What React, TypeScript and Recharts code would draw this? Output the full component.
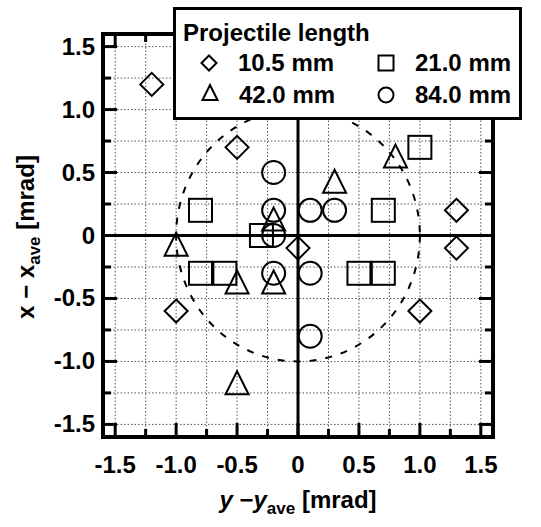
import React from "react";
import {
  ScatterChart, Scatter, XAxis, YAxis,
  ReferenceLine, ReferenceArea, ReferenceDot
} from "recharts";

// axis ticks every 0.25, labels only on the 0.5 steps
const tickValues = [-1.5, -1.25, -1, -0.75, -0.5, -0.25, 0, 0.25, 0.5, 0.75, 1, 1.25, 1.5];
const tickLabels = ["-1.5", "", "-1.0", "", "-0.5", "", "0", "", "0.5", "", "1.0", "", "1.5"];

// 10.5 mm
const d105X = [-1.2, -0.5, 0, 1.3, 1.3, -1.0, 1.0];
const d105Y = [1.2, 0.7, -0.1, 0.2, -0.1, -0.6, -0.6];
// 21.0 mm
const d210X = [-0.8, -0.3, -0.8, -0.6, 0.5, 0.7, 0.7, 1.0];
const d210Y = [0.2, 0, -0.3, -0.3, -0.3, -0.3, 0.2, 0.7];
// 42.0 mm
const d420X = [-1.0, 0.3, 0.8, -0.2, -0.5, -0.2, -0.5];
const d420Y = [-0.1, 0.4, 0.6, 0.1, -0.4, -0.4, -1.2];
// 84.0 mm
const d840X = [-0.2, -0.2, -0.2, -0.2, 0.1, 0.3, 0.1, 0.1];
const d840Y = [0.5, 0.2, 0, -0.3, 0.2, 0.2, -0.3, -0.8];

const seriesNames = ["10.5 mm", "21.0 mm", "42.0 mm", "84.0 mm"];
const seriesShapes = ["diamond", "square", "triangle", "circle"];

const zip = (xs: number[], ys: number[]) => xs.map((x, i) => ({ x, y: ys[i] }));
const seriesData = [zip(d105X, d105Y), zip(d210X, d210Y), zip(d420X, d420Y), zip(d840X, d840Y)];

const W = 541;
const H = 527;
// plot area: left 103, right 493, top 34, bottom 437
const M = { top: 24, right: 38, bottom: 30, left: 33 };
const AX = { top: 10, right: 10, bottom: 60, left: 70 };
const DOMAIN: [number, number] = [-1.6, 1.6];
const PW = W - M.left - M.right - AX.left - AX.right;
const PH = H - M.top - M.bottom - AX.top - AX.bottom;
const FONT = '"Liberation Sans", Arial, Helvetica, sans-serif';

function Marker({ kind, cx, cy, s, sw }: any) {
  const common = { fill: "none", stroke: "#000", strokeWidth: sw };
  if (kind === "diamond")
    return <polygon points={`${cx},${cy - s} ${cx + s},${cy} ${cx},${cy + s} ${cx - s},${cy}`} {...common} />;
  if (kind === "square")
    return <rect x={cx - s} y={cy - s} width={2 * s} height={2 * s} {...common} />;
  if (kind === "triangle") {
    const h = 2 * s;
    return (
      <polygon
        points={`${cx},${cy - (2 * h) / 3} ${cx + s},${cy + h / 3} ${cx - s},${cy + h / 3}`}
        {...common}
      />
    );
  }
  return <circle cx={cx} cy={cy} r={s} {...common} />;
}

const labelOf = (v: number) => tickLabels[tickValues.indexOf(v)] || "";
const lenOf = (v: number) => (labelOf(v) ? 14 : 8);

const BottomTick = ({ x, y, payload }: any) => (
  <g>
    <line x1={x} x2={x} y1={y} y2={y - lenOf(payload.value)} stroke="#000" strokeWidth={3} />
    {labelOf(payload.value) && (
      <text x={x} y={y + 36} textAnchor="middle" fontFamily={FONT} fontWeight={700} fontSize={24} fill="#000">
        {labelOf(payload.value)}
      </text>
    )}
  </g>
);
const TopTick = ({ x, y, payload }: any) => (
  <line x1={x} x2={x} y1={y} y2={y + lenOf(payload.value)} stroke="#000" strokeWidth={3} />
);
const LeftTick = ({ x, y, payload }: any) => (
  <g>
    <line x1={x} x2={x + lenOf(payload.value)} y1={y} y2={y} stroke="#000" strokeWidth={3} />
    {labelOf(payload.value) && (
      <text x={x - 8} y={y + 8} textAnchor="end" fontFamily={FONT} fontWeight={700} fontSize={24} fill="#000">
        {labelOf(payload.value)}
      </text>
    )}
  </g>
);
const RightTick = ({ x, y, payload }: any) => (
  <line x1={x} x2={x - lenOf(payload.value)} y1={y} y2={y} stroke="#000" strokeWidth={3} />
);

const UnitCircle = ({ cx, cy }: any) => (
  <ellipse
    cx={cx} cy={cy}
    rx={PW / (DOMAIN[1] - DOMAIN[0])} ry={PH / (DOMAIN[1] - DOMAIN[0])}
    fill="none" stroke="#000" strokeWidth={2} strokeDasharray="7 9"
  />
);

export default function App() {
  const legendPos = [
    { x: 209, y: 63 }, { x: 386, y: 63 }, { x: 210, y: 95 }, { x: 386, y: 95 }
  ];
  return (
    <div style={{ position: "absolute", left: 0, top: 0, width: W, height: H, background: "#fff" }}>
      <ScatterChart width={W} height={H} margin={M}>
        <XAxis
          type="number" dataKey="x" domain={DOMAIN} ticks={tickValues} interval={0}
          allowDataOverflow height={AX.bottom} tickSize={0} tickMargin={0}
          axisLine={false} tickLine={false} tick={<BottomTick />}
        />
        <XAxis
          xAxisId="top" orientation="top" type="number" dataKey="x" domain={DOMAIN} ticks={tickValues}
          interval={0} allowDataOverflow height={AX.top} tickSize={0} tickMargin={0}
          axisLine={false} tickLine={false} tick={<TopTick />}
        />
        <YAxis
          type="number" dataKey="y" domain={DOMAIN} ticks={tickValues} interval={0}
          allowDataOverflow width={AX.left} tickSize={0} tickMargin={0}
          axisLine={false} tickLine={false} tick={<LeftTick />}
        />
        <YAxis
          yAxisId="right" orientation="right" type="number" dataKey="y" domain={DOMAIN} ticks={tickValues}
          interval={0} allowDataOverflow width={AX.right} tickSize={0} tickMargin={0}
          axisLine={false} tickLine={false} tick={<RightTick />}
        />
        {tickValues.map((v) => (
          <ReferenceLine key={`gx${v}`} x={v} stroke="#555" strokeWidth={1} strokeDasharray="1.5 2" />
        ))}
        {tickValues.map((v) => (
          <ReferenceLine key={`gy${v}`} y={v} stroke="#555" strokeWidth={1} strokeDasharray="1.5 2" />
        ))}
        <ReferenceLine x={0} stroke="#000" strokeWidth={3} />
        <ReferenceLine y={0} stroke="#000" strokeWidth={3} />
        <ReferenceDot x={0} y={0} shape={<UnitCircle />} />
        <ReferenceArea
          x1={DOMAIN[0]} x2={DOMAIN[1]} y1={DOMAIN[0]} y2={DOMAIN[1]}
          fill="none" fillOpacity={0} stroke="#000" strokeWidth={4} ifOverflow="visible"
        />
        {seriesData.map((data, i) => (
          <Scatter
            key={seriesNames[i]}
            name={seriesNames[i]}
            data={data}
            isAnimationActive={false}
            shape={(p: any) => <Marker kind={seriesShapes[i]} cx={p.cx} cy={p.cy} s={11.5} sw={2} />}
          />
        ))}
      </ScatterChart>

      <svg width={W} height={H} style={{ position: "absolute", left: 0, top: 0, pointerEvents: "none" }}>
        <g fontFamily={FONT} fontWeight="bold" fill="#000">
          <rect x={174.5} y={8.5} width={346} height={110} fill="#fff" stroke="#000" strokeWidth={3} />
          <text x={183} y={41} fontSize={24}>Projectile length</text>
          {seriesNames.map((n, i) => (
            <g key={n}>
              <Marker kind={seriesShapes[i]} cx={legendPos[i].x} cy={legendPos[i].y} s={7.5} sw={2} />
              <text x={legendPos[i].x + 29} y={legendPos[i].y + 8} fontSize={24}>{n}</text>
            </g>
          ))}
          <text x={298} y={508} textAnchor="middle" fontSize={24}>
            <tspan fontStyle="italic">y</tspan>
            <tspan> −</tspan>
            <tspan fontStyle="italic">y</tspan>
            <tspan fontSize={17} dy={6}>ave</tspan>
            <tspan dy={-6}> [mrad]</tspan>
          </text>
          <text x={0} y={0} transform="translate(34,237) rotate(-90)" textAnchor="middle" fontSize={24}>
            <tspan>x − x</tspan>
            <tspan fontSize={17} dy={6}>ave</tspan>
            <tspan dy={-6}> [mrad]</tspan>
          </text>
        </g>
      </svg>
    </div>
  );
}
